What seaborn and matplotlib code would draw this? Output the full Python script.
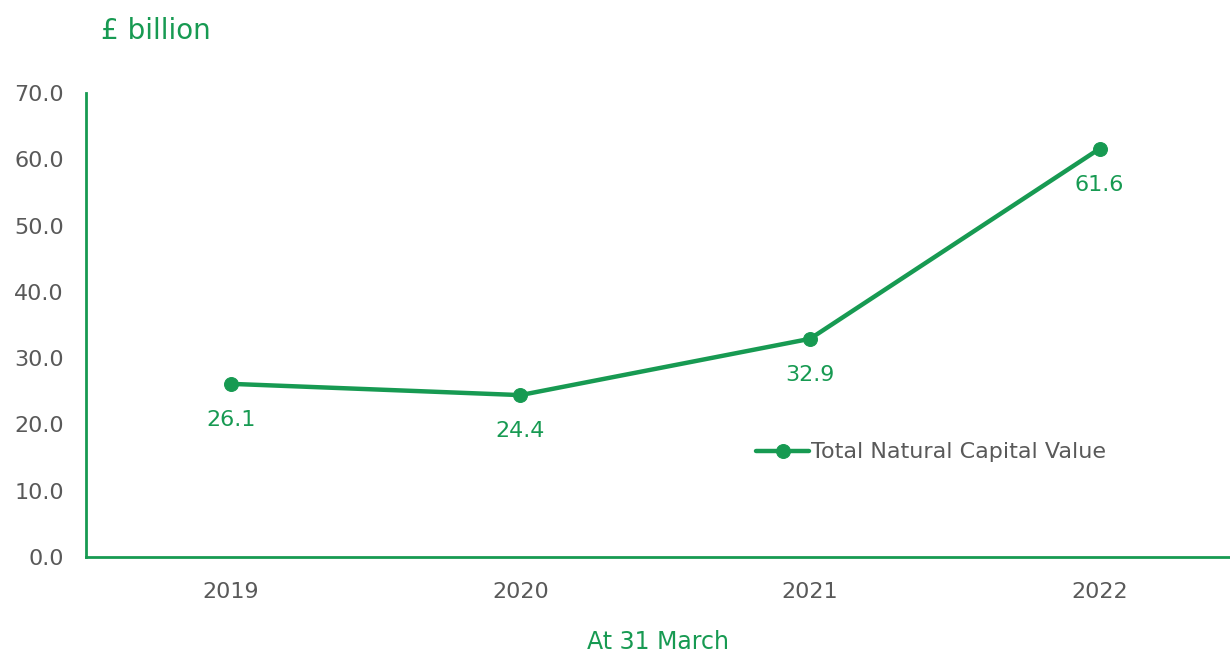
import matplotlib
matplotlib.use('Agg')
import matplotlib.pyplot as plt
import pandas as pd
import seaborn as sns

years = ['2019', '2020', '2021', '2022']
values = [26.1, 24.4, 32.9, 61.6]
series_name = 'Total Natural Capital Value'

green = '#179a52'
grey = '#595959'

df = pd.DataFrame({'year': years, 'value': values})

sns.set_style('white')
plt.rcParams['font.family'] = ['DejaVu Sans']

fig = plt.figure(figsize=(12.3, 6.55), dpi=100)
ax = fig.add_axes([0.07, 0.15, 0.93, 0.708])

sns.lineplot(data=df, x='year', y='value', ax=ax, color=green, linewidth=3.2,
             marker='o', markersize=10, markeredgecolor=green, sort=False,
             label=series_name)

# data labels below the points
for i, v in enumerate(values):
    ax.annotate(f'{v:.1f}', (i, v), xytext=(0, -26), textcoords='offset points',
                ha='center', va='center', color=green, fontsize=16)

ax.set_xlim(-0.5, 3.45)
ax.set_ylim(0, 70)
ax.set_yticks(range(0, 71, 10))
ax.set_yticklabels([f'{t:.1f}' for t in range(0, 71, 10)])
ax.tick_params(axis='both', length=0, labelsize=16, labelcolor=grey)
ax.tick_params(axis='y', pad=16)
ax.tick_params(axis='x', pad=18)

sns.despine(ax=ax, top=True, right=True)
for s in ['left', 'bottom']:
    ax.spines[s].set_color(green)
    ax.spines[s].set_linewidth(2)

ax.set_xlabel('At 31 March', color=green, fontsize=17, labelpad=20)
ax.set_ylabel('')
fig.text(0.082, 0.953, '£ billion', color=green, fontsize=20, va='center', ha='left')

leg = ax.legend(loc='center left', bbox_to_anchor=(0.568, 0.225), frameon=False,
                fontsize=16, handlelength=2.4, handletextpad=0.1)
for t in leg.get_texts():
    t.set_color(grey)

fig.savefig('out.png', dpi=100)
